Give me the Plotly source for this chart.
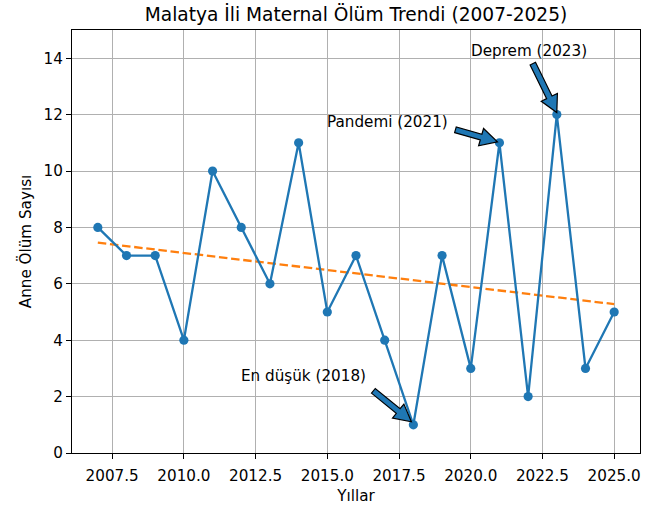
import numpy as np
import plotly.graph_objects as go

years = [2007, 2008, 2009, 2010, 2011, 2012, 2013, 2014, 2015, 2016,
         2017, 2018, 2019, 2020, 2021, 2022, 2023, 2024, 2025]
deaths = [8, 7, 7, 4, 10, 8, 6, 11, 5, 7, 4, 1, 7, 3, 11, 2, 12, 3, 5]

x_tick_vals = [2007.5, 2010.0, 2012.5, 2015.0, 2017.5, 2020.0, 2022.5, 2025.0]
x_tick_text = ["2007.5", "2010.0", "2012.5", "2015.0", "2017.5", "2020.0", "2022.5", "2025.0"]
y_tick_vals = [0, 2, 4, 6, 8, 10, 12, 14]

# annotations: label, point year, point value, text position (year, value)
ann_labels = ["Deprem (2023)", "Pandemi (2021)", "En düşük (2018)"]
ann_years = [2023, 2021, 2018]
ann_values = [12, 11, 1]
ann_text_x = [2020.0, 2015.0, 2012.0]
ann_text_y = [14.0, 11.5, 2.5]

# linear trend
coef = np.polyfit(years, deaths, 1)
trend = np.polyval(coef, years)

BLUE = "#1f77b4"
ORANGE = "#ff7f0e"
FONT = "DejaVu Sans"
FS = 15.2

fig = go.Figure()
fig.add_trace(go.Scatter(x=years, y=trend, mode="lines",
                         line=dict(color=ORANGE, width=2.3, dash="8.5px,3.7px"),
                         showlegend=False, hoverinfo="skip"))
fig.add_trace(go.Scatter(x=years, y=deaths, mode="lines+markers",
                         line=dict(color=BLUE, width=2.3),
                         marker=dict(color=BLUE, size=9.2),
                         showlegend=False))

# arrow styling (pixel offsets relative to the annotated point): tip, tail
arrow_tips = [(0, 2), (-2, 1), (-2, 3)]
arrow_tails = [(-24, 51), (-44, 13), (-40, 34)]


def arrow_path(tip, tail, w=3.0, hw=9.0, hl=17):
    tx, ty = tip
    sx, sy = tail
    dx, dy = sx - tx, sy - ty
    L = (dx * dx + dy * dy) ** 0.5
    ux, uy = dx / L, dy / L
    nx, ny = -uy, ux
    bx, by = tx + ux * hl, ty + uy * hl
    pts = [
        (sx + nx * w, sy + ny * w),
        (bx + nx * w, by + ny * w),
        (bx + nx * hw, by + ny * hw),
        (tx, ty),
        (bx - nx * hw, by - ny * hw),
        (bx - nx * w, by - ny * w),
        (sx - nx * w, sy - ny * w),
    ]
    return "M " + " L ".join(f"{p[0]:.2f},{p[1]:.2f}" for p in pts) + " Z"


for i in range(len(ann_labels)):
    fig.add_shape(type="path", xref="x", yref="y",
                  xsizemode="pixel", ysizemode="pixel",
                  xanchor=ann_years[i], yanchor=ann_values[i],
                  path=arrow_path(arrow_tips[i], arrow_tails[i]),
                  fillcolor=BLUE, line=dict(color="black", width=1.2),
                  layer="above")
    fig.add_annotation(x=ann_text_x[i], y=ann_text_y[i], text=ann_labels[i],
                       showarrow=False, xanchor="left", yanchor="bottom",
                       xshift=-2, yshift=-4, font=dict(family=FONT, size=FS, color="black"))

axis_common = dict(showline=True, linecolor="black", linewidth=1.1, mirror=True,
                   ticks="outside", ticklen=5, tickcolor="black", tickwidth=1.1,
                   showgrid=True, gridcolor="#b0b0b0", gridwidth=1.1,
                   zeroline=False, automargin=False,
                   tickfont=dict(family=FONT, size=FS, color="black"))

fig.update_xaxes(range=[2006.1, 2025.9], tickvals=x_tick_vals, ticktext=x_tick_text,
                 ticklabelstandoff=4,
                 title=dict(text="Yıllar", font=dict(family=FONT, size=FS, color="black"),
                            standoff=8),
                 **axis_common)
fig.update_yaxes(range=[0, 15], tickvals=y_tick_vals,
                 title=dict(text="Anne Ölüm Sayısı", font=dict(family=FONT, size=FS, color="black"),
                            standoff=8),
                 **axis_common)

fig.update_layout(
    width=653, height=505,
    margin=dict(l=72, r=13, t=30, b=52),
    paper_bgcolor="white", plot_bgcolor="white",
    title=dict(text="Malatya İli Maternal Ölüm Trendi (2007-2025)",
               font=dict(family=FONT, size=18.6, color="black"),
               x=(72 + 640) / 2 / 653, xanchor="center", y=1 - 14 / 505, yanchor="middle"),
    showlegend=False,
)

fig.write_html("out.html", config={"displayModeBar": False},
               post_script="document.body.style.margin='0';")
